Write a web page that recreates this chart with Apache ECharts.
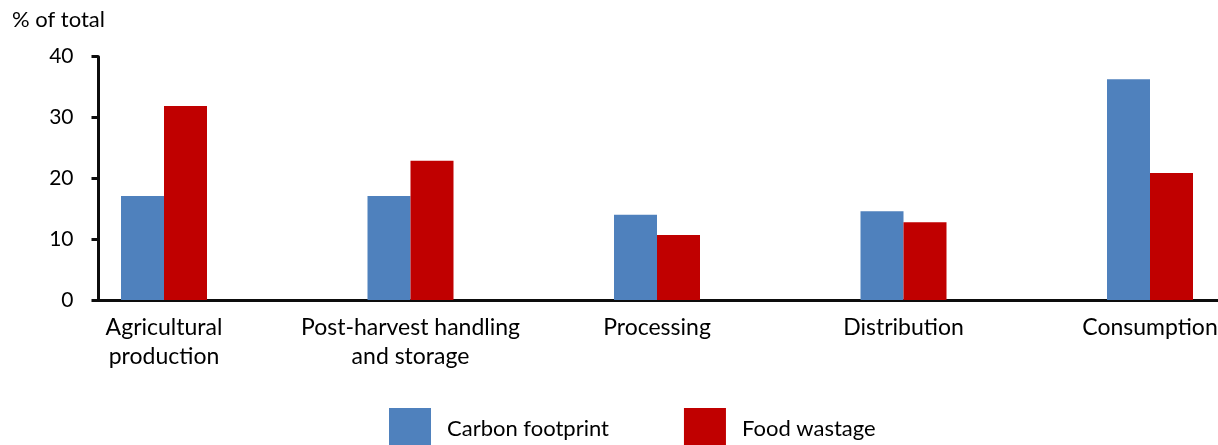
<!DOCTYPE html>
<html>
<head>
<meta charset="utf-8">
<script src="https://cdn.jsdelivr.net/npm/echarts@6/dist/echarts.min.js"></script>
<style>
  html, body { margin: 0; padding: 0; background: #fff; }
  #chart { width: 1218px; height: 445px; }
</style>
</head>
<body>
<div id="chart"></div>
<script>
// Share of total by food supply chain phase (%)
const stages = [
  'Agricultural\nproduction',
  'Post-harvest handling\nand storage',
  'Processing',
  'Distribution',
  'Consumption'
];
const carbonFootprint = [17.1, 17.1, 14.0, 14.6, 36.3];
const foodWastage = [31.9, 22.9, 10.7, 12.8, 20.9];
const yTicks = { min: 0, max: 40, interval: 10 };
const yUnit = '% of total';

const FONT = 'Lato, "Open Sans", sans-serif';
const TEXT = '#000';
const AXIS = '#0d0d0d';

const chart = echarts.init(document.getElementById('chart'), null, { renderer: 'canvas' });

chart.setOption({
  animation: false,
  backgroundColor: '#fff',
  textStyle: { fontFamily: FONT, color: TEXT },
  graphic: [{
    type: 'text',
    left: 12,
    top: 9,
    style: { text: yUnit, fontSize: 22, fontFamily: FONT, fill: TEXT }
  }],
  legend: {
    left: 389,
    top: 408,
    padding: 0,
    itemWidth: 42,
    itemHeight: 42,
    itemGap: 75,
    icon: 'rect',
    textStyle: { fontSize: 22, fontFamily: FONT, color: TEXT, padding: [0, 0, 0, 11] },
    data: ['Carbon footprint', 'Food wastage']
  },
  grid: [
    // bars grid: category bands run wider than the visible axis
    { left: 40.75, right: -55.25, top: 56.7, bottom: 145, outerBoundsMode: 'none' },
    // visible axes
    { left: 98.5, right: 0, top: 56.7, bottom: 145, outerBoundsMode: 'none' }
  ],
  xAxis: [
    {
      gridIndex: 0,
      type: 'category',
      data: stages,
      axisLine: { show: false },
      axisTick: { show: false },
      axisLabel: {
        fontSize: 23, lineHeight: 29, color: TEXT, fontFamily: FONT,
        margin: 13, interval: 0, align: 'center'
      }
    },
    {
      gridIndex: 1,
      type: 'category',
      data: stages,
      axisLine: { show: true, lineStyle: { color: AXIS, width: 3 } },
      axisTick: { show: false },
      axisLabel: { show: false }
    }
  ],
  yAxis: [
    {
      gridIndex: 0,
      type: 'value',
      min: yTicks.min, max: yTicks.max, interval: yTicks.interval,
      show: false,
      splitLine: { show: false }
    },
    {
      gridIndex: 1,
      type: 'value',
      min: yTicks.min, max: yTicks.max, interval: yTicks.interval,
      axisLine: { show: true, lineStyle: { color: AXIS, width: 3 } },
      axisTick: { show: true, length: 7, lineStyle: { color: AXIS, width: 3 } },
      axisLabel: { fontSize: 21, color: TEXT, fontFamily: FONT, margin: 25 },
      splitLine: { show: false }
    }
  ],
  series: [
    {
      name: 'Carbon footprint',
      type: 'bar',
      xAxisIndex: 0, yAxisIndex: 0,
      data: carbonFootprint,
      barWidth: 43,
      barGap: '0%',
      itemStyle: { color: '#4F81BD' }
    },
    {
      name: 'Food wastage',
      type: 'bar',
      xAxisIndex: 0, yAxisIndex: 0,
      data: foodWastage,
      barWidth: 43,
      barGap: '0%',
      itemStyle: { color: '#C00000' }
    }
  ]
});
</script>
</body>
</html>
